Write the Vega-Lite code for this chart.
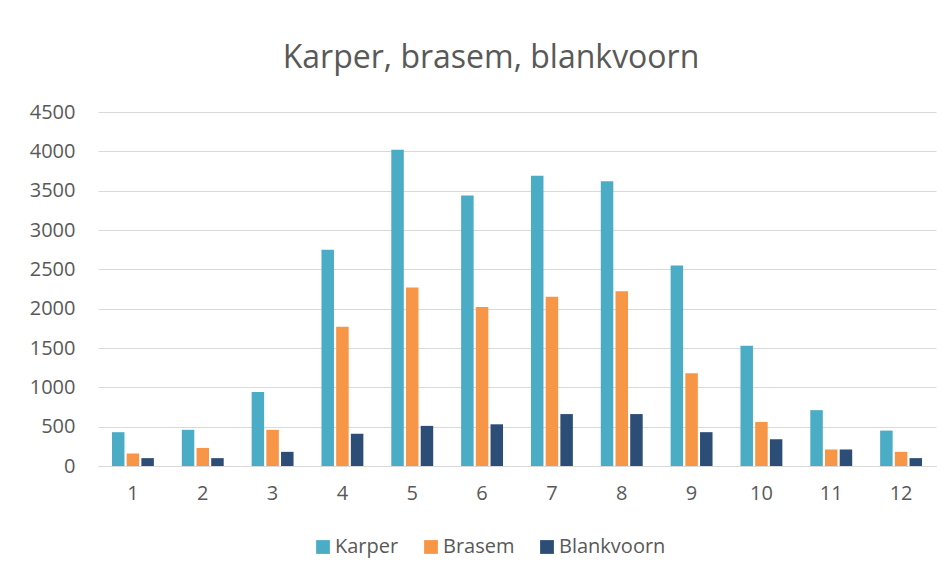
{
  "$schema": "https://vega.github.io/schema/vega-lite/v6.json",
  "autosize": "none",
  "width": 838,
  "height": 354,
  "padding": {"left": 98, "top": 112, "right": 16, "bottom": 115},
  "background": "white",
  "title": {
    "text": "Karper, brasem, blankvoorn",
    "font": "Open Sans",
    "fontSize": 32,
    "fontWeight": "normal",
    "color": "#595959",
    "anchor": "middle",
    "baseline": "alphabetic",
    "offset": 2,
    "dx": -26
  },
  "data": {
    "values": [
      {"maand": 1, "soort": "Karper", "aantal": 430},
      {"maand": 2, "soort": "Karper", "aantal": 460},
      {"maand": 3, "soort": "Karper", "aantal": 940},
      {"maand": 4, "soort": "Karper", "aantal": 2750},
      {"maand": 5, "soort": "Karper", "aantal": 4020},
      {"maand": 6, "soort": "Karper", "aantal": 3440},
      {"maand": 7, "soort": "Karper", "aantal": 3690},
      {"maand": 8, "soort": "Karper", "aantal": 3620},
      {"maand": 9, "soort": "Karper", "aantal": 2550},
      {"maand": 10, "soort": "Karper", "aantal": 1530},
      {"maand": 11, "soort": "Karper", "aantal": 710},
      {"maand": 12, "soort": "Karper", "aantal": 450},
      {"maand": 1, "soort": "Brasem", "aantal": 160},
      {"maand": 2, "soort": "Brasem", "aantal": 230},
      {"maand": 3, "soort": "Brasem", "aantal": 460},
      {"maand": 4, "soort": "Brasem", "aantal": 1770},
      {"maand": 5, "soort": "Brasem", "aantal": 2270},
      {"maand": 6, "soort": "Brasem", "aantal": 2020},
      {"maand": 7, "soort": "Brasem", "aantal": 2150},
      {"maand": 8, "soort": "Brasem", "aantal": 2220},
      {"maand": 9, "soort": "Brasem", "aantal": 1180},
      {"maand": 10, "soort": "Brasem", "aantal": 560},
      {"maand": 11, "soort": "Brasem", "aantal": 210},
      {"maand": 12, "soort": "Brasem", "aantal": 180},
      {"maand": 1, "soort": "Blankvoorn", "aantal": 100},
      {"maand": 2, "soort": "Blankvoorn", "aantal": 100},
      {"maand": 3, "soort": "Blankvoorn", "aantal": 180},
      {"maand": 4, "soort": "Blankvoorn", "aantal": 410},
      {"maand": 5, "soort": "Blankvoorn", "aantal": 510},
      {"maand": 6, "soort": "Blankvoorn", "aantal": 530},
      {"maand": 7, "soort": "Blankvoorn", "aantal": 660},
      {"maand": 8, "soort": "Blankvoorn", "aantal": 660},
      {"maand": 9, "soort": "Blankvoorn", "aantal": 430},
      {"maand": 10, "soort": "Blankvoorn", "aantal": 340},
      {"maand": 11, "soort": "Blankvoorn", "aantal": 210},
      {"maand": 12, "soort": "Blankvoorn", "aantal": 100}
    ]
  },
  "mark": {"type": "bar"},
  "encoding": {
    "x": {
      "field": "maand",
      "type": "ordinal",
      "scale": {"paddingInner": 0.4, "paddingOuter": 0.2},
      "axis": {
        "title": null,
        "labelAngle": 0,
        "ticks": false,
        "domain": true,
        "domainColor": "#D9D9D9",
        "domainWidth": 1,
        "labelPadding": 17,
        "labelFont": "Open Sans",
        "labelFontSize": 20,
        "labelColor": "#595959"
      }
    },
    "xOffset": {
      "field": "soort",
      "type": "nominal",
      "sort": ["Karper", "Brasem", "Blankvoorn"],
      "scale": {"paddingInner": 0.15}
    },
    "y": {
      "field": "aantal",
      "type": "quantitative",
      "scale": {"domain": [0, 4500]},
      "axis": {
        "title": null,
        "values": [0, 500, 1000, 1500, 2000, 2500, 3000, 3500, 4000, 4500],
        "format": "d",
        "domain": false,
        "ticks": false,
        "grid": true,
        "gridColor": "#D9D9D9",
        "gridWidth": 1,
        "labelPadding": 23,
        "labelFont": "Open Sans",
        "labelFontSize": 20,
        "labelColor": "#595959"
      }
    },
    "color": {
      "field": "soort",
      "type": "nominal",
      "sort": ["Karper", "Brasem", "Blankvoorn"],
      "scale": {
        "domain": ["Karper", "Brasem", "Blankvoorn"],
        "range": ["#4BACC6", "#F79646", "#2C4D75"]
      },
      "legend": {
        "title": null,
        "orient": "none",
        "direction": "horizontal",
        "legendX": 215,
        "legendY": 425,
        "padding": 0,
        "columns": 3,
        "columnPadding": 22,
        "symbolType": "square",
        "symbolSize": 190,
        "symbolStrokeWidth": 0,
        "labelOffset": 2,
        "labelFont": "Open Sans",
        "labelFontSize": 20,
        "labelColor": "#595959"
      }
    }
  },
  "config": {
    "view": {"stroke": null}
  }
}
